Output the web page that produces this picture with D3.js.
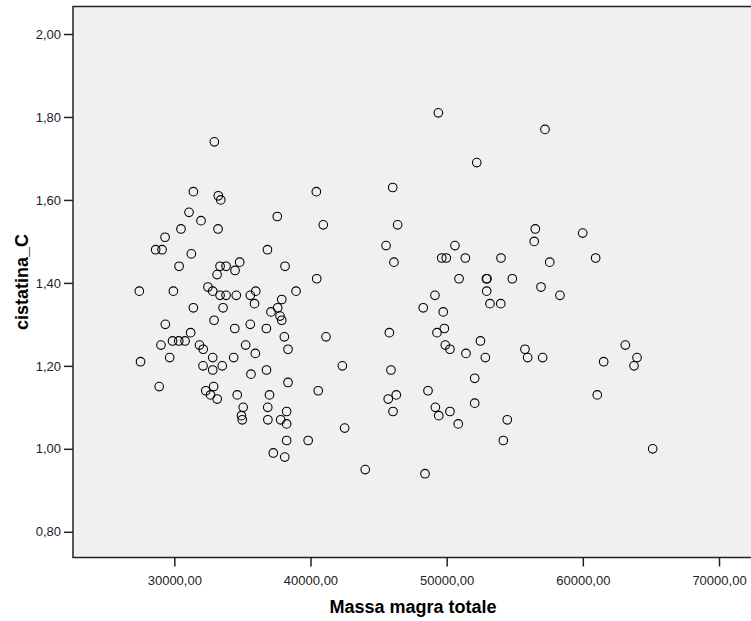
<!DOCTYPE html>
<html>
<head>
<meta charset="utf-8">
<script src="https://cdn.jsdelivr.net/npm/d3@7"></script>
<style>
  body { margin: 0; background: #fff; }
  text { font-family: "Liberation Sans", Arial, sans-serif; }
</style>
</head>
<body>
<div id="div_chart"></div>
<script>
// values
const massa = [
  32940, 31400, 33230, 33410, 31080, 31960, 30490, 33210, 29320, 28630,
  29100, 31250, 34800, 30350, 33360, 33800, 34460, 33140, 27430, 29930,
  32470, 32820, 33360, 33800, 34550, 35580, 31400, 33580, 32920, 29340,
  34440, 35580, 31200, 29870, 30330, 30790, 29020, 31850, 32120, 35240,
  29660, 32820, 34360, 27520, 32110, 33520, 32820, 35630, 28890, 32890,
  32310, 34620, 32660, 33150, 35060, 34930, 34990, 35980, 35890, 35950,
  36840, 37560, 38130, 38940, 37890, 37590, 37100, 37760, 37890, 36760,
  38080, 38350, 36770, 38350, 36990, 36860, 36870, 37810, 38250, 38250,
  38250, 39830, 37270, 38110, 40430, 40940, 40460, 41140, 40570, 42340,
  42510, 44020, 49390, 52210, 46040, 46400, 45550, 50610, 49640, 49970,
  51370, 53990, 46130, 50910, 52920, 52960, 52940, 49140, 53180, 53970,
  48280, 49750, 45790, 49290, 49830, 49900, 50240, 52480, 51420, 52840,
  52060, 45910, 48630, 45710, 46300, 46060, 49170, 49420, 50240, 50850,
  52060, 48410, 54450, 54160, 54820, 57220, 56510, 56430, 59990, 57570,
  60940, 56930, 58320, 55750, 55950, 57050, 63120, 63980, 63760, 61530,
  61060, 65130
];
const cistatina = [
  1.74, 1.62, 1.61, 1.60, 1.57, 1.55, 1.53, 1.53, 1.51, 1.48,
  1.48, 1.47, 1.45, 1.44, 1.44, 1.44, 1.43, 1.42, 1.38, 1.38,
  1.39, 1.38, 1.37, 1.37, 1.37, 1.37, 1.34, 1.34, 1.31, 1.30,
  1.29, 1.30, 1.28, 1.26, 1.26, 1.26, 1.25, 1.25, 1.24, 1.25,
  1.22, 1.22, 1.22, 1.21, 1.20, 1.20, 1.19, 1.18, 1.15, 1.15,
  1.14, 1.13, 1.13, 1.12, 1.10, 1.08, 1.07, 1.38, 1.35, 1.23,
  1.48, 1.56, 1.44, 1.38, 1.36, 1.34, 1.33, 1.32, 1.31, 1.29,
  1.27, 1.24, 1.19, 1.16, 1.13, 1.10, 1.07, 1.07, 1.09, 1.06,
  1.02, 1.02, 0.99, 0.98, 1.62, 1.54, 1.41, 1.27, 1.14, 1.20,
  1.05, 0.95, 1.81, 1.69, 1.63, 1.54, 1.49, 1.49, 1.46, 1.46,
  1.46, 1.46, 1.45, 1.41, 1.41, 1.41, 1.38, 1.37, 1.35, 1.35,
  1.34, 1.33, 1.28, 1.28, 1.29, 1.25, 1.24, 1.26, 1.23, 1.22,
  1.17, 1.19, 1.14, 1.12, 1.13, 1.09, 1.10, 1.08, 1.09, 1.06,
  1.11, 0.94, 1.07, 1.02, 1.41, 1.77, 1.53, 1.50, 1.52, 1.45,
  1.46, 1.39, 1.37, 1.24, 1.22, 1.22, 1.25, 1.22, 1.20, 1.21,
  1.13, 1.00
];
const xTicks = [30000, 40000, 50000, 60000, 70000];
const yTicks = [0.8, 1.0, 1.2, 1.4, 1.6, 1.8, 2.0];

const svg_width = 751;
const svg_height = 621;
const plot = {left: 73, top: 6.5, right: 751, bottom: 557.5};

const it = d3.formatLocale({decimal: ",", thousands: "", grouping: [3], currency: ["", "€"]});
const fmt = it.format(".2f");

let svg = d3.select("#div_chart")
  .append("svg")
    .attr("width", svg_width)
    .attr("height", svg_height)

let x = d3.scaleLinear()
    .domain([22560, 72350])
    .range([plot.left, plot.right]);

let y = d3.scaleLinear()
    .domain([0.738, 2.0663])
    .range([plot.bottom, plot.top]);

// plot background (right edge runs off the picture)
svg.append("rect")
    .attr("x", plot.left)
    .attr("y", plot.top)
    .attr("width", plot.right - plot.left + 10)
    .attr("height", plot.bottom - plot.top)
    .attr("fill", "#f0f0f0")
    .attr("stroke", "#222")
    .attr("stroke-width", 1.5)

// axes
let xAxis = svg.append("g")
    .attr("transform", "translate(0," + plot.bottom + ")")
    .call(d3.axisBottom(x).tickValues(xTicks).tickFormat(fmt).tickSize(9).tickPadding(9));

let yAxis = svg.append("g")
    .attr("transform", "translate(" + plot.left + ",0)")
    .call(d3.axisLeft(y).tickValues(yTicks).tickFormat(fmt).tickSize(9).tickPadding(3));

[xAxis, yAxis].forEach(function(g) {
    g.select(".domain").remove();
    g.selectAll(".tick line").attr("stroke", "#222").attr("stroke-width", 1.5);
    g.selectAll(".tick text")
        .attr("fill", "#222")
        .style("font-size", "13px")
        .style("font-family", "'Liberation Sans', Arial, sans-serif");
});

// points
svg.append("g")
  .selectAll("circle")
  .data(massa)
  .join("circle")
    .attr("cx", function(d) { return x(d); })
    .attr("cy", function(d, i) { return y(cistatina[i]); })
    .attr("r", 4.3)
    .attr("fill", "none")
    .attr("stroke", "#000")
    .attr("stroke-width", 1.1)

// axis titles
svg.append("text")
    .attr("x", 413)
    .attr("y", 613)
    .attr("text-anchor", "middle")
    .style("font-size", "18px")
    .style("font-weight", "bold")
    .text("Massa magra totale")

svg.append("text")
    .attr("transform", "translate(28," + ((plot.top + plot.bottom) / 2) + ") rotate(-90)")
    .attr("text-anchor", "middle")
    .style("font-size", "18px")
    .style("font-weight", "bold")
    .text("cistatina_C")
</script>
</body>
</html>
